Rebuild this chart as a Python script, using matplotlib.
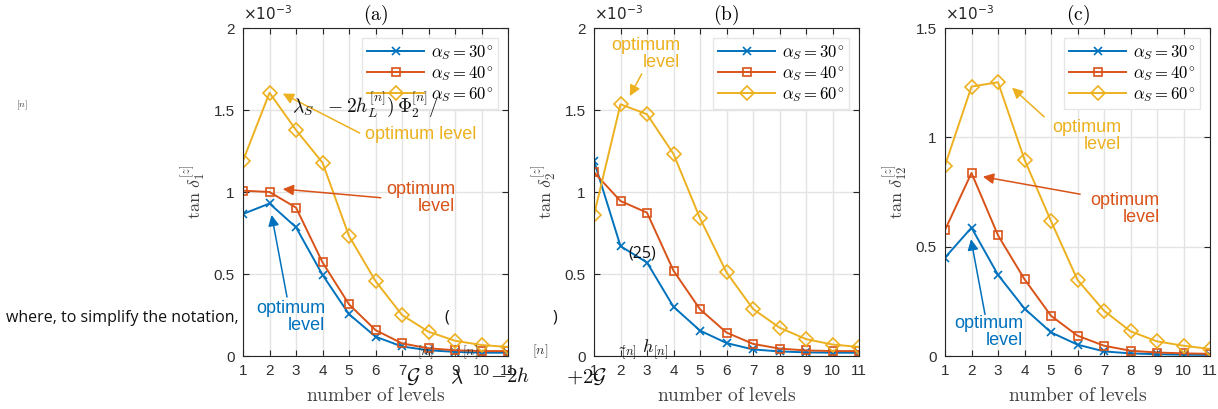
import numpy as np
import matplotlib
matplotlib.use('Agg')
import matplotlib.pyplot as plt

plt.rcParams['font.family'] = ['Liberation Sans', 'DejaVu Sans']
plt.rcParams['mathtext.fontset'] = 'cm'

# data (values in units of 1e-3)
levels = np.arange(1, 12)
series_labels = [r'$\alpha_S = 30^{\circ}$', r'$\alpha_S = 40^{\circ}$', r'$\alpha_S = 60^{\circ}$']

a30 = [0.866, 0.93, 0.785, 0.495, 0.255, 0.118, 0.058, 0.035, 0.025, 0.02, 0.02]
a40 = [1.008, 1.0, 0.905, 0.571, 0.315, 0.158, 0.077, 0.047, 0.035, 0.03, 0.03]
a60 = [1.19, 1.605, 1.378, 1.179, 0.732, 0.457, 0.25, 0.148, 0.093, 0.067, 0.055]

b30 = [1.19, 0.67, 0.57, 0.30, 0.155, 0.079, 0.04, 0.028, 0.022, 0.02, 0.02]
b40 = [1.12, 0.945, 0.874, 0.52, 0.285, 0.143, 0.074, 0.045, 0.034, 0.03, 0.03]
b60 = [0.86, 1.535, 1.474, 1.232, 0.84, 0.51, 0.287, 0.173, 0.103, 0.07, 0.055]

c30 = [0.45, 0.587, 0.371, 0.217, 0.108, 0.052, 0.021, 0.012, 0.008, 0.006, 0.005]
c40 = [0.576, 0.837, 0.552, 0.351, 0.184, 0.093, 0.047, 0.024, 0.016, 0.012, 0.01]
c60 = [0.871, 1.232, 1.252, 0.898, 0.617, 0.348, 0.207, 0.113, 0.067, 0.047, 0.032]

titles = ['(a)', '(b)', '(c)']
ylabels = [r'$\tan\,\delta_1^{[z]}$', r'$\tan\,\delta_2^{[z]}$', r'$\tan\,\delta_{12}^{[z]}$']
ymax = [2, 2, 1.5]
yticks = [[0, 0.5, 1, 1.5, 2], [0, 0.5, 1, 1.5, 2], [0, 0.5, 1, 1.5]]
yticklabels = [['0', '0.5', '1', '1.5', '2'], ['0', '0.5', '1', '1.5', '2'], ['0', '0.5', '1', '1.5']]

colors = ['#0072BD', '#D95319', '#EDB120']
markers = ['x', 's', 'D']
msizes = [6, 6, 7]

W, H = 1218, 409
fig = plt.figure(figsize=(W / 100, H / 100), dpi=100)

def px(x, y):
    return x / W, 1 - y / H

lefts = [243, 594, 945]
axes = []
for i, data in enumerate([(a30, a40, a60), (b30, b40, b60), (c30, c40, c60)]):
    ax = fig.add_axes([lefts[i] / W, 53 / H, 265 / W, 328 / H])
    for k in range(3):
        ax.plot(levels, data[k], color=colors[k], marker=markers[k], ms=msizes[k],
                mfc='none', mew=1.2, lw=1.4, label=series_labels[k])
    ax.set_xlim(1, 11)
    ax.set_ylim(0, ymax[i])
    ax.set_xticks(levels)
    ax.set_yticks(yticks[i])
    ax.set_yticklabels(yticklabels[i])
    ax.grid(True, color='#e3e3e3', lw=1)
    ax.set_axisbelow(True)
    ax.tick_params(direction='in', length=4, top=True, right=True, labelsize=11,
                   colors='#262626', labelcolor='#303030', pad=6)
    for s in ax.spines.values():
        s.set_color('#262626')
        s.set_linewidth(0.8)
    ax.set_title(r'$\mathrm{' + titles[i] + '}$', fontsize=14, pad=6)
    ax.set_xlabel(r'$\mathrm{number\ of\ levels}$', fontsize=14, color='#404040', labelpad=6)
    ax.set_ylabel(ylabels[i], fontsize=13, color='#404040', labelpad=4)
    leg = ax.legend(loc='upper right', fontsize=12, handlelength=3.4, borderaxespad=0.6,
                    labelspacing=0.12, handletextpad=0.4, borderpad=0.3, fancybox=False,
                    framealpha=1, edgecolor='#e6e6e6')
    ax.text(0.0, 1.015, r'$\times10^{-3}$', transform=ax.transAxes, fontsize=11,
            color='#262626', math_fontfamily='dejavusans', va='bottom', ha='left')
    axes.append(ax)

def note(ax, text, txy, tail, head, color):
    ax.text(txy[0], txy[1], text, color=color, fontsize=13, ha='right', va='center',
            multialignment='right', linespacing=1.0)
    ax.annotate('', xy=head, xytext=tail,
                arrowprops=dict(arrowstyle='-|>', color=color, lw=1.1, mutation_scale=16,
                                shrinkA=0, shrinkB=0))

ax1, ax2, ax3 = axes
note(ax1, 'optimum level', (9.8, 1.35), (5.4, 1.36), (2.5, 1.60), colors[2])
note(ax1, 'optimum\nlevel', (9.0, 0.965), (6.2, 0.965), (2.5, 1.018), colors[1])
note(ax1, 'optimum\nlevel', (4.1, 0.24), (2.66, 0.36), (2.08, 0.86), colors[0])
note(ax2, 'optimum\nlevel', (4.25, 1.84), (2.8, 1.72), (2.35, 1.585), colors[2])
note(ax3, 'optimum\nlevel', (7.65, 1.005), (4.74, 1.094), (3.53, 1.227), colors[2])
note(ax3, 'optimum\nlevel', (9.1, 0.67), (6.1, 0.74), (2.43, 0.82), colors[1])
note(ax3, 'optimum\nlevel', (3.95, 0.11), (2.51, 0.19), (1.98, 0.534), colors[0])

# stray text from the source page
body = dict(family=['Open Sans', 'DejaVu Sans'], fontsize=11.5, color='#111111', va='center')
fig.text(*px(6, 318), 'where, to simplify the notation,', ha='left', **body)
fig.text(*px(447, 318), '(', ha='center', **body)
fig.text(*px(555, 318), ')', ha='center', **body)
fig.text(*px(642, 253), '(25)', ha='center', **body)
fig.text(*px(22, 105), r'$[n]$', fontsize=7, color='#333333', ha='center', va='center')
fig.text(*px(292, 104), r'$\lambda_S\ \ -2h_L^{[n]})\,\mathit{\Phi}_2^{[n]}/$', fontsize=14,
         color='#111111', ha='left', va='center')
fig.text(*px(425, 352), r'$[n]$', fontsize=10, color='#333333', ha='center', va='center')
fig.text(*px(470, 352), r'$[n]$', fontsize=10, color='#333333', ha='center', va='center')
fig.text(*px(540, 351), r'$[n]$', fontsize=10, color='#333333', ha='center', va='center')
fig.text(*px(413, 377), r'$\mathcal{G}$', fontsize=15, color='#111111', ha='center', va='center')
fig.text(*px(457, 378), r'$\lambda$', fontsize=15, color='#111111', ha='center', va='center')
fig.text(*px(510, 377), r'$-2h$', fontsize=15, color='#111111', ha='center', va='center')
fig.text(*px(643, 350), r'$\tilde{}_{[n]}\ h_{[n]}$', fontsize=13, color='#111111',
         ha='center', va='center')
fig.text(*px(587, 377), r'$+2\mathcal{G}$', fontsize=15, color='#111111', ha='center', va='center')

fig.savefig('out.png', dpi=100)
